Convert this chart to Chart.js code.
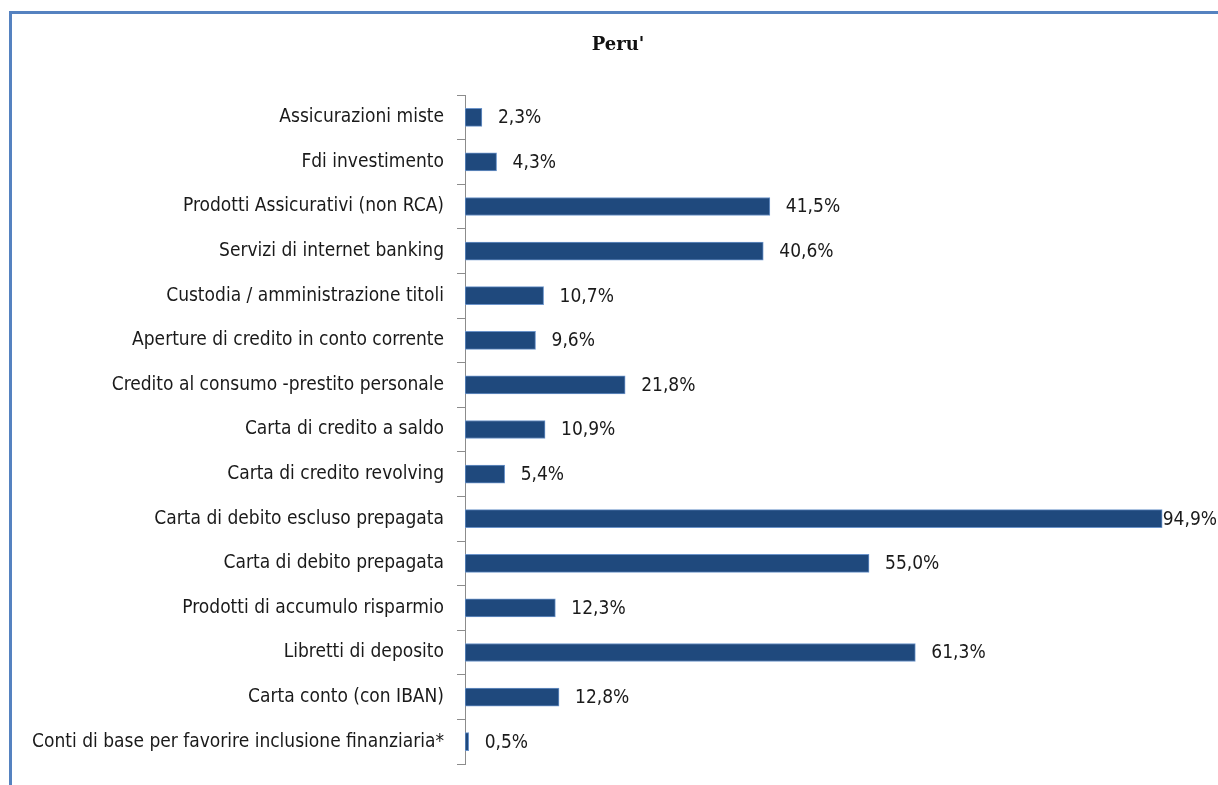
<!DOCTYPE html>
<html>
<head>
<meta charset="utf-8">
<script src="https://cdn.jsdelivr.net/npm/chart.js@4.4.1/dist/chart.umd.min.js"></script>
<style>
  html, body { margin: 0; padding: 0; background: #fff; }
  #wrap { position: relative; width: 1218px; height: 785px; }
</style>
</head>
<body>
<div id="wrap"><canvas id="myChart" width="1218" height="785"></canvas></div>
<script>
const categories = [
  'Assicurazioni miste',
  'Fdi investimento',
  'Prodotti Assicurativi (non RCA)',
  'Servizi di internet banking',
  'Custodia / amministrazione titoli',
  'Aperture di credito in conto corrente',
  'Credito al consumo -prestito personale',
  'Carta di credito a saldo',
  'Carta di credito revolving',
  'Carta di debito escluso prepagata',
  'Carta di debito prepagata',
  'Prodotti di accumulo risparmio',
  'Libretti di deposito',
  'Carta conto (con IBAN)',
  'Conti di base per favorire inclusione finanziaria*'
];
const values = [2.3, 4.3, 41.5, 40.6, 10.7, 9.6, 21.8, 10.9, 5.4, 94.9, 55.0, 12.3, 61.3, 12.8, 0.5];
const chartTitle = "Peru'";

const labelFont = '"Liberation Sans Narrow", "DejaVu Sans Condensed", "Arial Narrow", sans-serif';

// blue frame at top/left, like the cropped Excel chart border
const framePlugin = {
  id: 'frame',
  beforeDraw(chart) {
    const ctx = chart.ctx;
    ctx.save();
    ctx.strokeStyle = '#5582c0';
    ctx.lineWidth = 3;
    ctx.beginPath();
    ctx.moveTo(10.5, chart.height + 5);
    ctx.lineTo(10.5, 12.5);
    ctx.lineTo(chart.width + 5, 12.5);
    ctx.stroke();

    // title, a bit right of the canvas centre as in the original
    ctx.font = 'bold 18px "DejaVu Serif", "Liberation Serif", serif';
    ctx.fillStyle = '#111';
    ctx.textAlign = 'center';
    ctx.textBaseline = 'middle';
    ctx.fillText(chartTitle, 618, 45);
    ctx.restore();
  }
};

// value labels at the end of each bar
const valueLabels = {
  id: 'valueLabels',
  afterDatasetsDraw(chart) {
    const ctx = chart.ctx;
    const meta = chart.getDatasetMeta(0);
    ctx.save();
    ctx.font = '19px ' + labelFont;
    ctx.fillStyle = '#1a1a1a';
    ctx.textBaseline = 'middle';
    meta.data.forEach((bar, i) => {
      const txt = values[i].toFixed(1).replace('.', ',') + '%';
      const w = ctx.measureText(txt).width;
      let x = bar.x + 16;
      if (x + w > chart.width - 1) x = chart.width - 1 - w;
      ctx.fillText(txt, x, bar.y + 1);
    });
    ctx.restore();
  }
};

const ctx = document.getElementById('myChart').getContext('2d');
const myChart = new Chart(ctx, {
  type: 'bar',
  data: {
    labels: categories,
    datasets: [{
      data: values,
      backgroundColor: '#1f497d',
      borderColor: '#6b93c9',
      borderWidth: 1,
      borderSkipped: false,
      barThickness: 18
    }]
  },
  options: {
    indexAxis: 'y',
    responsive: false,
    animation: false,
    layout: { padding: { left: 0, right: 0, top: 95, bottom: 21 } },
    plugins: {
      legend: { display: false },
      tooltip: { enabled: false },
      title: { display: false }
    },
    scales: {
      x: {
        display: false,
        min: 0,
        max: 102.5
      },
      y: {
        afterFit(scale) {
          scale.width = 465;
          scale.paddingTop = 0;
          scale.paddingBottom = 0;
        },
        border: { display: true, color: '#8c8c8c', width: 1 },
        grid: {
          offset: true,
          drawOnChartArea: false,
          drawTicks: true,
          tickLength: 8,
          color: '#8c8c8c'
        },
        ticks: {
          color: '#1a1a1a',
          padding: 13,
          font: { family: labelFont, size: 19 }
        }
      }
    }
  },
  plugins: [framePlugin, valueLabels]
});
</script>
</body>
</html>
